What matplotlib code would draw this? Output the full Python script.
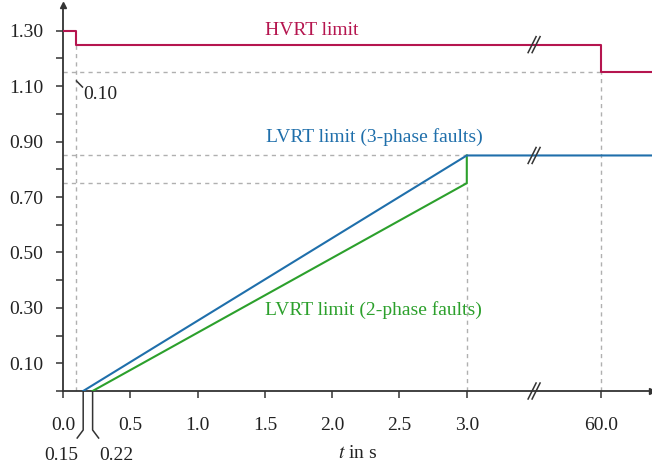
#!/usr/bin/env python3
"""
Grid-code voltage ride-through limits (HVRT / LVRT) over time, with a
broken time axis between 3 s and 60 s.
"""

import matplotlib

matplotlib.use("Agg")

import matplotlib.pyplot as plt
import numpy as np


# time in s, voltage in p.u.
HVRT_T = [0.0, 0.10, 0.10, 60.0, 60.0, 66.0]
HVRT_U = [1.30, 1.30, 1.25, 1.25, 1.15, 1.15]

LVRT3_T = [0.15, 3.0, 66.0]
LVRT3_U = [0.00, 0.85, 0.85]

LVRT2_T = [0.22, 3.0, 3.0]
LVRT2_U = [0.00, 0.75, 0.85]

X_TICKS = [0.0, 0.5, 1.0, 1.5, 2.0, 2.5, 3.0, 60.0]
Y_TICKS = [0.0, 0.1, 0.2, 0.3, 0.4, 0.5, 0.6, 0.7, 0.8, 0.9, 1.0, 1.1, 1.2, 1.3]
Y_LABELED = [0.1, 0.3, 0.5, 0.7, 0.9, 1.1, 1.3]

C_HVRT = "#b5154f"
C_LVRT3 = "#1f6fab"
C_LVRT2 = "#2ca02c"
C_GUIDE = "#b0b0b0"
C_AXIS = "#333333"
C_TEXT = "#222222"
FS = 14

# axis break: 0..3 s linear, 60 s drawn at 4.0, tail compressed
T_BREAK = 3.5
T_LONG = 4.0
X_MAX = 4.376
Y_MAX = 1.393


def tmap(t):
    t = np.asarray(t, dtype=float)
    return np.where(t <= 3.0, t, T_LONG + (t - 60.0) / 16.0)


def px2dx(px):
    return px / 134.6


def px2dy(px):
    return px / 277.0


plt.rcParams["font.family"] = ["Liberation Serif", "DejaVu Serif"]
plt.rcParams["mathtext.fontset"] = "stix"

fig = plt.figure(figsize=(6.52, 4.65), dpi=100)
ax = fig.add_axes([63 / 652, 74 / 465, 589 / 652, 386 / 465])
ax.set_xlim(0, X_MAX)
ax.set_ylim(0, Y_MAX)

for side in ("top", "right"):
    ax.spines[side].set_visible(False)
for side in ("left", "bottom"):
    ax.spines[side].set_color(C_AXIS)
    ax.spines[side].set_linewidth(1.3)
ax.plot(1, 0, ">", color=C_AXIS, ms=5, transform=ax.transAxes, clip_on=False)
ax.plot(0, 1, "^", color=C_AXIS, ms=5, transform=ax.transAxes, clip_on=False)

# dashed guide lines
guide = dict(color=C_GUIDE, lw=1.0, dashes=(3, 3), zorder=1)
ax.plot(tmap([0.10, 0.10]), [0, 1.25], **guide)
ax.plot(tmap([0.0, 60.0]), [1.15, 1.15], **guide)
ax.plot(tmap([60.0, 60.0]), [0, 1.15], **guide)
ax.plot(tmap([0.0, 3.0]), [0.85, 0.85], **guide)
ax.plot(tmap([0.0, 3.0]), [0.75, 0.75], **guide)
ax.plot(tmap([3.0, 3.0]), [0, 0.75], **guide)

# limit curves
ax.plot(tmap(HVRT_T), HVRT_U, color=C_HVRT, lw=1.5, zorder=3)
ax.plot(tmap(LVRT2_T), LVRT2_U, color=C_LVRT2, lw=1.5, zorder=3)
ax.plot(tmap(LVRT3_T), LVRT3_U, color=C_LVRT3, lw=1.5, zorder=4)

# break marks on the curves and the time axis
for yb in (0.0, 1.25, 0.85):
    for off in (-2.0, 2.0):
        xs = [T_BREAK + px2dx(off - 4), T_BREAK + px2dx(off + 4)]
        ys = [yb - px2dy(8), yb + px2dy(8)]
        ax.plot(xs, ys, color=C_AXIS, lw=1.1, zorder=5, clip_on=False)

ax.set_xticks(tmap(X_TICKS))
ax.set_xticklabels([f"{t:.1f}" for t in X_TICKS])
ax.set_yticks(Y_TICKS)
ax.set_yticklabels([f"{y:.2f}" if any(abs(y - v) < 1e-9 for v in Y_LABELED) else ""
                    for y in Y_TICKS])
ax.tick_params(axis="both", direction="out", length=5, width=1.1, color=C_AXIS,
               labelsize=FS, labelcolor=C_TEXT)
ax.tick_params(axis="x", pad=14)
ax.tick_params(axis="y", pad=9)

ax.set_xlabel("$t$ in s", fontsize=FS, color=C_TEXT)
ax.xaxis.set_label_coords(0.5, -0.161)
ax.xaxis.label.set_va("center")

# curve labels
ax.text(1.85, 1.30, "HVRT limit", color=C_HVRT, fontsize=FS, ha="center", va="center")
ax.text(2.31, 0.917, "LVRT limit (3-phase faults)", color=C_LVRT3, fontsize=FS,
        ha="center", va="center")
ax.text(2.31, 0.292, "LVRT limit (2-phase faults)", color=C_LVRT2, fontsize=FS,
        ha="center", va="center")

# small value call-outs
lead = dict(color=C_AXIS, lw=1.1, clip_on=False)
ax.plot([0.10, 0.10 + px2dx(6)], [1.119, 1.097], **lead)
ax.text(0.10 + px2dx(7), 1.069, "0.10", fontsize=FS, color=C_TEXT, ha="left",
        va="center")

for t, side in ((0.15, -1), (0.22, 1)):
    x0 = float(tmap(t))
    ax.plot([x0, x0, x0 + side * px2dx(6)],
            [0, -px2dy(39), -px2dy(47)], **lead)
ax.text(float(tmap(0.15)) - px2dx(22), -px2dy(64), "0.15", fontsize=FS,
        color=C_TEXT, ha="center", va="center", clip_on=False)
ax.text(float(tmap(0.22)) + px2dx(24), -px2dy(64), "0.22", fontsize=FS,
        color=C_TEXT, ha="center", va="center", clip_on=False)

fig.savefig("out.png", dpi=100)
